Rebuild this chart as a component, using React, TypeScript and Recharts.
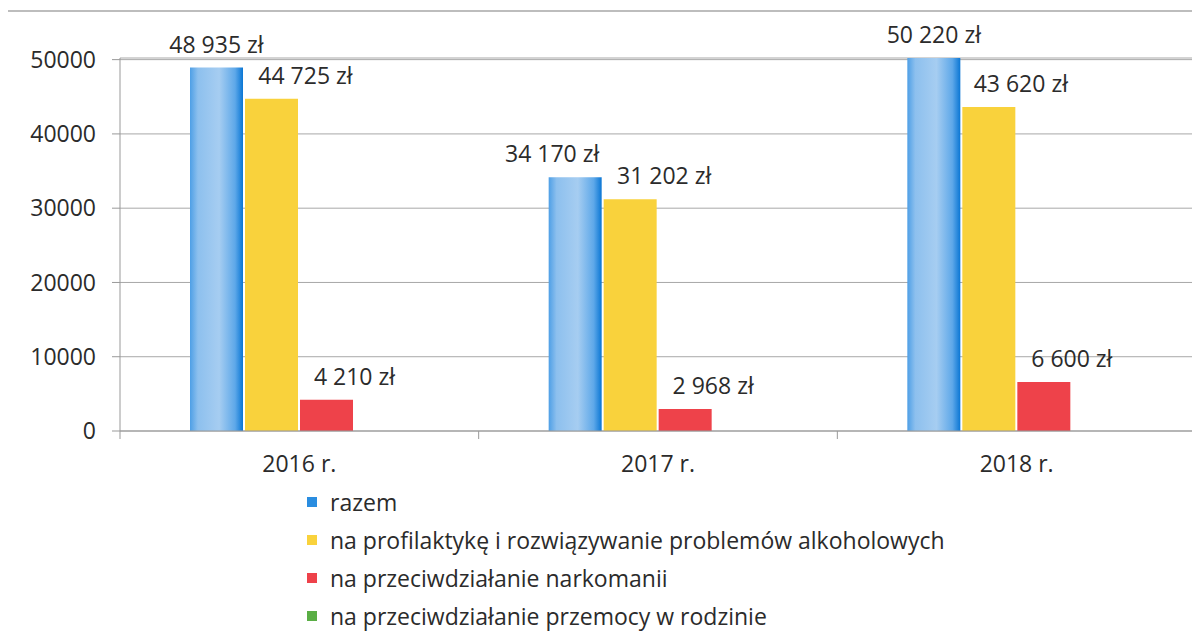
import React from "react";
import { BarChart, Bar, XAxis, YAxis, CartesianGrid, Legend, LabelList } from "recharts";

const categories = ["2016 r.", "2017 r.", "2018 r."];
const razem = [48935, 34170, 50220];
const alkohol = [44725, 31202, 43620];
const narkomania = [4210, 2968, 6600];
const przemoc = [0, 0, 0];
const yTicks = [0, 10000, 20000, 30000, 40000, 50000];

// label nudges (px) per series, blue one per category as on the original
const series = [
  { key: "razem", name: "razem", fill: "url(#blueFill)", swatch: "#2a8de0", dx: [0, -23, 0] },
  { key: "alkohol", name: "na profilaktykę i rozwiązywanie problemów alkoholowych", fill: "#f9d23c", swatch: "#f9d23c", dx: [34, 34, 32] },
  { key: "narkomania", name: "na przeciwdziałanie narkomanii", fill: "#ee424a", swatch: "#ee424a", dx: [28, 28, 28] },
  { key: "przemoc", name: "na przeciwdziałanie przemocy w rodzinie", fill: "#5aae45", swatch: "#5aae45", dx: [0, 0, 0] },
];

const data = categories.map((c, i) => ({
  name: c,
  razem: razem[i],
  alkohol: alkohol[i],
  narkomania: narkomania[i],
  przemoc: przemoc[i],
}));

const FONT = "'Open Sans', sans-serif";
const FS = 23;
const TEXT = "#2b2b2b";
const W = 1192;
const H = 626;
const M = { top: 50, right: 4, left: 0, bottom: 0 };
const Y_W = 112;
const HALF_BAND = (W - Y_W - M.right) / categories.length / 2;

const fmt = (v: number) => String(v).replace(/\B(?=(\d{3})+(?!\d))/g, " ") + " zł";

const makeLabel = (dx: number[]) => (props: any) => {
  const { x, y, width, value, index } = props;
  if (!value) return null;
  return (
    <text x={x + width / 2 + (dx[index] || 0)} y={y - 15} textAnchor="middle" fill={TEXT} fontSize={FS} fontFamily={FONT}>
      {fmt(value)}
    </text>
  );
};

const XTick = (props: any) => {
  const { x, y, payload, index } = props;
  const axisY = y - 8;
  return (
    <g>
      {index === 0 && <line x1={x - HALF_BAND} x2={x - HALF_BAND} y1={axisY} y2={axisY + 8} stroke="#999" />}
      <line x1={x + HALF_BAND} x2={x + HALF_BAND} y1={axisY} y2={axisY + 8} stroke="#999" />
      <text x={x} y={y + 33} textAnchor="middle" fill={TEXT} fontSize={FS} fontFamily={FONT}>
        {payload.value}
      </text>
    </g>
  );
};

const LegendBox = () => (
  <div style={{ height: 151, paddingLeft: 299, fontFamily: FONT, fontSize: FS, lineHeight: "26px", color: TEXT, boxSizing: "border-box" }}>
    {series.map((s) => (
      <div key={s.key} style={{ display: "flex", alignItems: "center", height: 38 }}>
        <span style={{ width: 10, height: 10, background: s.swatch, marginRight: 13, display: "inline-block" }} />
        <span>{s.name}</span>
      </div>
    ))}
  </div>
);

export default function App() {
  return (
    <div style={{ position: "relative", width: W, height: H }}>
      <svg width={0} height={0} style={{ position: "absolute" }}>
        <defs>
          <linearGradient id="blueFill" x1="0" y1="0" x2="1" y2="0">
            <stop offset="0%" stopColor="#4e9fe6" />
            <stop offset="15%" stopColor="#8dc0ee" />
            <stop offset="55%" stopColor="#a6cdf1" />
            <stop offset="85%" stopColor="#5ea8e9" />
            <stop offset="100%" stopColor="#0a76d4" />
          </linearGradient>
        </defs>
      </svg>
      <div
        style={{
          position: "absolute",
          left: -2,
          top: 2,
          right: -8,
          bottom: -8,
          borderLeft: "2px solid #9a9a9a",
          borderTop: "2px solid #bdbdbd",
        }}
      />
      <BarChart width={W} height={H} data={data} margin={M} barCategoryGap={70} barGap={2}>
        <CartesianGrid vertical={false} stroke="#a8a8a8" />
        <XAxis
          dataKey="name"
          tick={<XTick />}
          tickLine={false}
          axisLine={{ stroke: "#999" }}
          height={52}
          interval={0}
        />
        <YAxis
          width={Y_W}
          domain={[0, 50000]}
          ticks={yTicks}
          tickSize={8}
          tickMargin={16}
          axisLine={{ stroke: "#999" }}
          tickLine={{ stroke: "#999" }}
          tick={{ fill: TEXT, fontSize: FS, fontFamily: FONT }}
        />
        <Legend verticalAlign="bottom" align="left" content={<LegendBox />} />
        {series.map((s) => (
          <Bar key={s.key} dataKey={s.key} name={s.name} fill={s.fill} isAnimationActive={false}>
            <LabelList dataKey={s.key} content={makeLabel(s.dx)} />
          </Bar>
        ))}
      </BarChart>
    </div>
  );
}
